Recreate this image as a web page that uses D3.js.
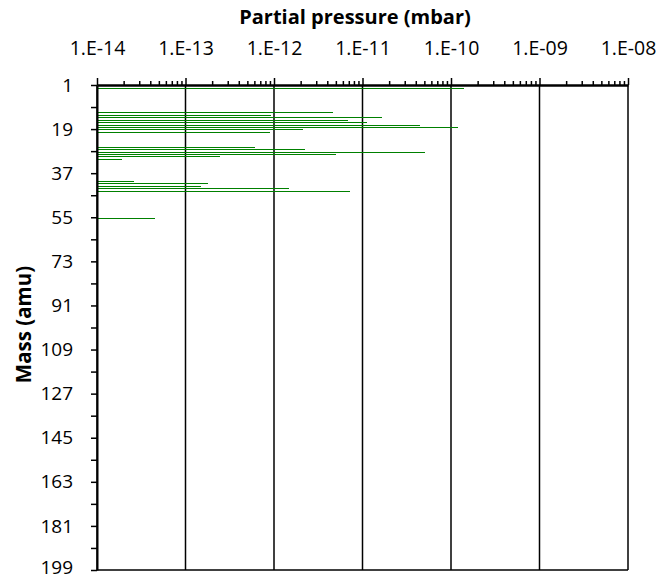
<!DOCTYPE html>
<html>
<head>
<meta charset="utf-8">
<script src="https://cdn.jsdelivr.net/npm/d3@7"></script>
<style>
  body { margin: 0; background: #fff; }
  text { font-family: "Open Sans", "Liberation Sans", sans-serif; fill: #000; }
</style>
</head>
<body>
<script>
// masses (amu) and partial pressures (mbar)
const masses = [1, 2, 12, 13, 14, 15, 16, 17, 18, 19, 20, 26, 27, 28, 29, 30, 31, 40, 41, 42, 43, 44, 55];
const pressures = [5.6e-11, 1.4e-10, 4.6e-12, 9.3e-13, 1.66e-11, 6.8e-12, 1.12e-11, 4.5e-11, 1.2e-10, 2.1e-12, 9.0e-13,
                   6.1e-13, 2.24e-12, 5.1e-11, 5.0e-12, 2.45e-13, 1.9e-14, 2.6e-14, 1.78e-13, 1.5e-13, 1.48e-12, 7.2e-12, 4.5e-14];
const decadeTicks = [1e-14, 1e-13, 1e-12, 1e-11, 1e-10, 1e-9, 1e-8];
const decadeLabels = ["1.E-14", "1.E-13", "1.E-12", "1.E-11", "1.E-10", "1.E-09", "1.E-08"];
const massTicks = d3.range(1, 200, 9);

const width = 668, height = 580;
const margin = { left: 97, right: 40, top: 85, bottom: 10 };

const data = masses.map((m, i) => ({ mass: m, p: pressures[i] }));

const svg = d3.select("body").append("svg")
  .attr("width", width)
  .attr("height", height);

const x = d3.scaleLog()
  .domain([1e-14, 1e-8])
  .range([margin.left, width - margin.right]);

const y = d3.scaleLinear()
  .domain([1, 199])
  .range([margin.top, height - margin.bottom]);

// vertical gridlines at each decade
svg.append("g")
  .selectAll("line")
  .data(decadeTicks)
  .join("line")
  .attr("x1", d => x(d)).attr("x2", d => x(d))
  .attr("y1", y(1)).attr("y2", y(199))
  .attr("stroke", "#000")
  .attr("stroke-width", 1.5);

// bottom border
svg.append("line")
  .attr("x1", x(1e-14)).attr("x2", x(1e-8))
  .attr("y1", y(199)).attr("y2", y(199))
  .attr("stroke", "#000")
  .attr("stroke-width", 1.5);

// bars
svg.append("g")
  .attr("shape-rendering", "crispEdges")
  .selectAll("rect")
  .data(data)
  .join("rect")
  .attr("x", x(1e-14))
  .attr("y", d => y(d.mass) + 0.4)
  .attr("width", d => x(d.p) - x(1e-14))
  .attr("height", 1)
  .attr("fill", "#008000");

// minor log ticks on top
const minorTicks = [];
decadeTicks.slice(0, -1).forEach(d => {
  for (let k = 2; k <= 9; k++) minorTicks.push(d * k);
});

svg.append("g")
  .attr("transform", `translate(0,${margin.top})`)
  .call(d3.axisTop(x).tickValues(minorTicks).tickSize(4).tickFormat(""))
  .call(g => g.select(".domain").remove())
  .call(g => g.selectAll(".tick line").attr("stroke-width", 1.5));

// top axis with decade labels
const xAxis = svg.append("g")
  .attr("transform", `translate(0,${margin.top})`)
  .call(d3.axisTop(x)
    .tickValues(decadeTicks)
    .tickSize(7)
    .tickSizeOuter(0)
    .tickPadding(23)
    .tickFormat((d, i) => decadeLabels[i]));
xAxis.select(".domain").attr("stroke-width", 2.5);
xAxis.selectAll(".tick line").attr("stroke-width", 1.5);
xAxis.selectAll("text").style("font-size", "19.5px").style("font-family", "'Open Sans', sans-serif");

// left axis
const yAxis = svg.append("g")
  .attr("transform", `translate(${margin.left},0)`)
  .call(d3.axisLeft(y)
    .tickValues(massTicks)
    .tickSize(6)
    .tickSizeOuter(0)
    .tickPadding(18)
    .tickFormat(d => (d - 1) % 18 === 0 ? d : ""));
yAxis.select(".domain").attr("stroke-width", 2);
yAxis.selectAll(".tick line").attr("stroke-width", 1.5);
yAxis.selectAll("text").style("font-size", "19px").style("font-family", "'Open Sans', sans-serif");
// keep the last label inside the page
yAxis.selectAll("text").filter(d => d === 199).attr("dy", "0.2em");

// titles
svg.append("text")
  .attr("x", 355)
  .attr("y", 24)
  .attr("text-anchor", "middle")
  .style("font-size", "20px")
  .style("font-weight", "bold")
  .text("Partial pressure (mbar)");

svg.append("text")
  .attr("transform", `translate(31,${(y(1) + y(199)) / 2 - 3}) rotate(-90)`)
  .attr("text-anchor", "middle")
  .style("font-size", "20.5px")
  .style("font-weight", "bold")
  .text("Mass (amu)");
</script>
</body>
</html>
